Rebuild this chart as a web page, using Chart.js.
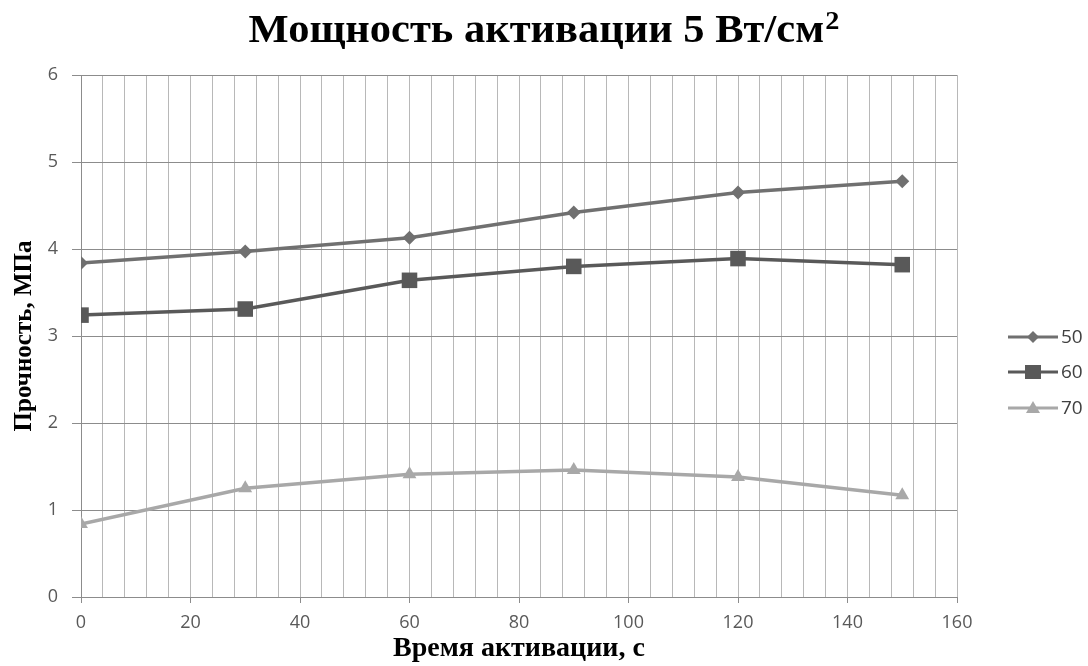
<!DOCTYPE html>
<html>
<head>
<meta charset="utf-8">
<script src="https://cdn.jsdelivr.net/npm/chart.js@4/dist/chart.umd.min.js"></script>
<style>
  body { margin: 0; background: #fff; }
  #wrap { width: 1088px; height: 666px; }
</style>
</head>
<body>
<div id="wrap"><canvas id="chart" width="1088" height="666"></canvas></div>
<script>
// data
const times = [0, 30, 60, 90, 120, 150];
const seriesNames = ['50', '60', '70'];
const s50 = [3.84, 3.97, 4.13, 4.42, 4.65, 4.78];
const s60 = [3.24, 3.31, 3.64, 3.80, 3.89, 3.82];
const s70 = [0.84, 1.25, 1.41, 1.46, 1.38, 1.17];
const yTicks = [0, 1, 2, 3, 4, 5, 6];

const colors = ['#707070', '#595959', '#a8a8a8'];
const markers = ['rectRot', 'rect', 'triangle'];
const radii = [7, 11, 8];

const toPoints = vals => vals.map((v, i) => ({ x: times[i], y: v }));

// title with a real superscript, and legend with line + marker
const extras = {
  id: 'extras',
  afterDraw(chart) {
    const ctx = chart.ctx;

    // title (the original font is a bit wider than Liberation Serif)
    ctx.save();
    ctx.fillStyle = '#000';
    ctx.textBaseline = 'alphabetic';
    const mainFont = 'bold 39px "Liberation Serif"';
    const supFont = 'bold 26px "Liberation Serif"';
    const main = 'Мощность активации 5 Вт/см';
    const stretch = 1.09;
    ctx.font = mainFont;
    const wMain = ctx.measureText(main).width;
    ctx.font = supFont;
    const wSup = ctx.measureText('2').width;
    const total = (wMain + wSup + 1) * stretch;
    ctx.translate(544 - total / 2, 0);
    ctx.scale(stretch, 1);
    ctx.font = mainFont;
    ctx.fillText(main, 0, 42);
    ctx.font = supFont;
    ctx.fillText('2', wMain + 1, 29);
    ctx.restore();

    // legend
    const ys = [337, 372, 408];
    chart.data.datasets.forEach((ds, i) => {
      const y = ys[i];
      ctx.save();
      ctx.strokeStyle = ds.borderColor;
      ctx.lineWidth = 3;
      ctx.beginPath();
      ctx.moveTo(1008, y);
      ctx.lineTo(1058, y);
      ctx.stroke();
      ctx.fillStyle = ds.borderColor;
      ctx.beginPath();
      if (i === 0) {
        ctx.moveTo(1033, y - 6); ctx.lineTo(1039, y); ctx.lineTo(1033, y + 6); ctx.lineTo(1027, y);
      } else if (i === 1) {
        ctx.rect(1025, y - 7, 16, 14);
      } else {
        ctx.moveTo(1033, y - 7); ctx.lineTo(1040, y + 5); ctx.lineTo(1026, y + 5);
      }
      ctx.closePath();
      ctx.fill();
      ctx.fillStyle = '#404040';
      ctx.font = '19px "Open Sans"';
      ctx.textBaseline = 'middle';
      ctx.fillText(ds.label, 1061, y + 1);
      ctx.restore();
    });
  }
};

new Chart(document.getElementById('chart'), {
  type: 'line',
  data: {
    datasets: [s50, s60, s70].map((vals, i) => ({
      label: seriesNames[i],
      data: toPoints(vals),
      borderColor: colors[i],
      backgroundColor: colors[i],
      borderWidth: 3.5,
      pointStyle: markers[i],
      pointRadius: radii[i],
      pointBorderWidth: 0,
      tension: 0,
    })),
  },
  options: {
    responsive: false,
    animation: false,
    layout: { padding: { left: 0, right: 131, top: 75, bottom: 0 } },
    plugins: {
      legend: { display: false },
      tooltip: { enabled: false },
    },
    scales: {
      x: {
        type: 'linear',
        min: 0,
        max: 160,
        afterFit(scale) { scale.height = 69; },
        border: { color: '#8c8c8c', width: 1 },
        grid: {
          color: '#b8b8b8',
          lineWidth: 1,
          tickLength: 6,
          tickColor: c => (c.tick && c.tick.value % 20 === 0) ? '#8c8c8c' : 'rgba(0,0,0,0)',
        },
        ticks: {
          stepSize: 4,
          autoSkip: false,
          maxRotation: 0,
          padding: 9,
          color: '#595959',
          font: { family: '"Open Sans"', size: 18 },
          callback: v => (v % 20 === 0 ? v : ''),
        },
        title: {
          display: true,
          text: 'Время активации, с',
          color: '#000',
          font: { family: '"Liberation Serif"', size: 28, weight: 'bold' },
          padding: { top: 0, bottom: 0 },
        },
      },
      y: {
        min: 0,
        max: 6,
        afterFit(scale) { scale.width = 81; },
        afterBuildTicks(scale) { scale.ticks = yTicks.map(v => ({ value: v })); },
        border: { color: '#8c8c8c', width: 1 },
        grid: { color: '#8c8c8c', lineWidth: 1, tickLength: 9, tickColor: '#8c8c8c' },
        ticks: {
          padding: 14,
          color: '#595959',
          font: { family: '"Open Sans"', size: 18 },
        },
        title: {
          display: true,
          text: 'Прочность, МПа',
          color: '#000',
          font: { family: '"Liberation Serif"', size: 25, weight: 'bold' },
          padding: { top: 10, bottom: 0 },
        },
      },
    },
  },
  plugins: [extras],
});
</script>
</body>
</html>
